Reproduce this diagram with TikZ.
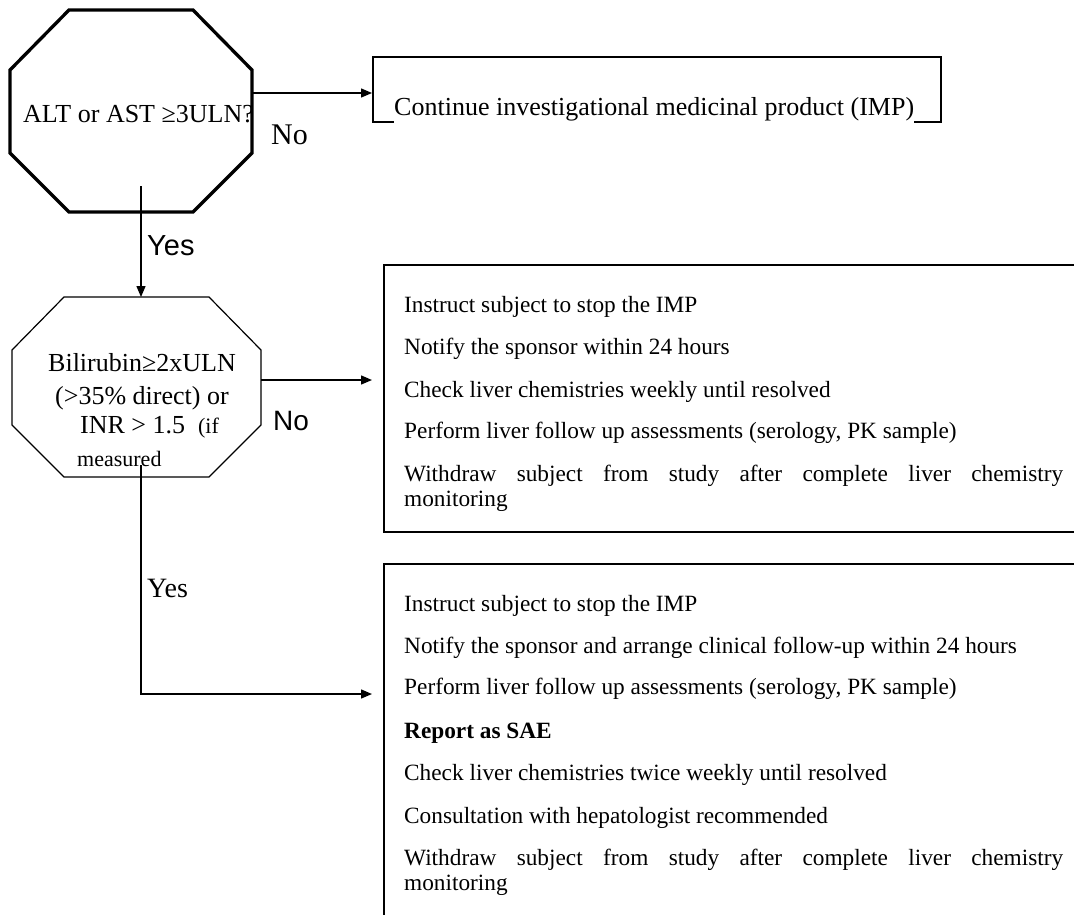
\documentclass[tikz,border=0pt]{standalone}
\usepackage{fontspec}
\setmainfont{Liberation Serif}
\setsansfont{Liberation Sans}
\usetikzlibrary{arrows.meta,calc}
\newcommand\setfs[1]{\fontsize{#1}{#1}\selectfont}
\begin{document}
\begin{tikzpicture}[x=1pt,y=-1pt,
  txt/.style={anchor=base west, inner sep=0pt},
  boxnode/.style={draw, line width=1.8pt, anchor=north west, inner sep=0pt},
  anchorbox/.style={anchor=north west, inner sep=0pt, outer sep=0pt},
  conn/.style={line width=1.4pt, -{Triangle[length=11pt,width=9pt]}},
  bodytxt/.style={txt, font=\setfs{23.3}},
  justline/.style={txt, font=\setfs{23.3}}
]
\useasboundingbox (0,0) rectangle (1074,914);
\clip (0,0) rectangle (1074,914);

% invisible frames of the two decision octagons
\node[anchorbox, minimum width=242pt, minimum height=202pt] (oct1) at (10,10) {};
\node[anchorbox, minimum width=249pt, minimum height=180pt] (oct2) at (12,297) {};

% action boxes
\node[boxnode, minimum width=568pt, minimum height=65pt] (box1) at (372,56) {};
\node[boxnode, minimum width=800pt, minimum height=267pt] (box2) at (383,264) {};
\node[boxnode, minimum width=800pt, minimum height=420pt] (box3) at (383,563) {};

% texts of the decision octagons
\node[txt, font=\setfs{26}] (q1) at (23,122) {ALT or AST ≥3ULN?};
\node[txt, font=\setfs{26}] (q2a) at (48,371) {Bilirubin≥2xULN};
\node[txt, font=\setfs{26}] (q2b) at (55,404) {(>35\% direct) or};
\node[txt, font=\setfs{26}] (q2c) at (80,433) {INR > 1.5 \ {\setfs{22}(if}};
\node[txt, font=\setfs{22}] (q2d) at (77,466) {measured};

% octagon outlines
\draw[line width=3.3pt, line join=miter]
  ($(oct1.north west)+(59,0)$) -- ($(oct1.north east)+(-59,0)$) --
  ($(oct1.north east)+(0,60)$) -- ($(oct1.south east)+(0,-59)$) --
  ($(oct1.south east)+(-59,0)$) -- ($(oct1.south west)+(59,0)$) --
  ($(oct1.south west)+(0,-59)$) -- ($(oct1.north west)+(0,60)$) -- cycle;
\draw[line width=1.2pt, line join=miter]
  ($(oct2.north west)+(52,0)$) -- ($(oct2.north east)+(-52,0)$) --
  ($(oct2.north east)+(0,53)$) -- ($(oct2.south east)+(0,-52)$) --
  ($(oct2.south east)+(-52,0)$) -- ($(oct2.south west)+(52,0)$) --
  ($(oct2.south west)+(0,-52)$) -- ($(oct2.north west)+(0,53)$) -- cycle;

% box 1 text (covers the bottom border)
\node[txt, font=\setfs{26}, fill=white, inner ysep=2.5pt] (t1) at (394,115)
  {Continue investigational medicinal product (IMP)};

% box 2 texts
\node[bodytxt] (b2a) at (404,312) {Instruct subject to stop the IMP};
\node[bodytxt] (b2b) at (404,354) {Notify the sponsor within 24 hours};
\node[bodytxt] (b2c) at (404,397) {Check liver chemistries weekly until resolved};
\node[bodytxt] (b2d) at (404,438) {Perform liver follow up assessments (serology, PK sample)};
\node[justline] (b2e) at (404,481) {\makebox[659pt][s]{Withdraw subject from study after complete liver chemistry}};
\node[bodytxt] (b2f) at (404,506) {monitoring};

% box 3 texts
\node[bodytxt] (b3a) at (404,611) {Instruct subject to stop the IMP};
\node[bodytxt] (b3b) at (404,653) {Notify the sponsor and arrange clinical follow-up within 24 hours};
\node[bodytxt] (b3c) at (404,694) {Perform liver follow up assessments (serology, PK sample)};
\node[bodytxt] (b3d) at (404,738) {\bfseries Report as SAE};
\node[bodytxt] (b3e) at (404,780) {Check liver chemistries twice weekly until resolved};
\node[bodytxt] (b3f) at (404,823) {Consultation with hepatologist recommended};
\node[justline] (b3g) at (404,865) {\makebox[659pt][s]{Withdraw subject from study after complete liver chemistry}};
\node[bodytxt] (b3h) at (404,890) {monitoring};

% connector labels
\node[txt, font=\setfs{30}] (no1) at (271,144) {No};
\node[txt, font=\sffamily\setfs{29}] (yes1) at (147,255) {Yes};
\node[txt, font=\sffamily\setfs{28}] (no2) at (273,430) {No};
\node[txt, font=\setfs{28}] (yes2) at (147,597) {Yes};

% connectors
\coordinate (y1) at (0,93);
\coordinate (s2) at (141,186);
\coordinate (y2) at (0,380);
\coordinate (s3) at (141,465);
\coordinate (y3) at (0,694);
\coordinate (e2) at ($(box2.west |- y2)+(-11,0)$);
\coordinate (e3) at ($(box3.west |- y3)+(-11,0)$);
\draw[conn] (oct1.east |- y1) -- (box1.west |- y1);
\draw[conn] (s2) -- (s2 |- oct2.north);
\draw[conn] (oct2.east |- y2) -- (e2);
\draw[conn] (s3) |- (e3);
\end{tikzpicture}
\end{document}
